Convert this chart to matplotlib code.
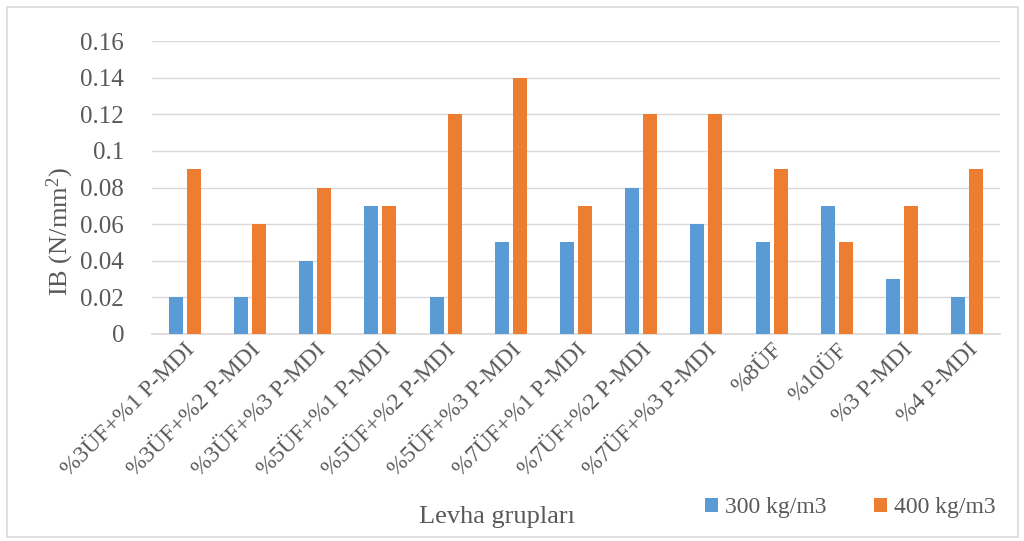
import matplotlib.pyplot as plt
import numpy as np
from matplotlib.patches import Rectangle

categories = ["%3ÜF+%1 P-MDI", "%3ÜF+%2 P-MDI", "%3ÜF+%3 P-MDI",
              "%5ÜF+%1 P-MDI", "%5ÜF+%2 P-MDI", "%5ÜF+%3 P-MDI",
              "%7ÜF+%1 P-MDI", "%7ÜF+%2 P-MDI", "%7ÜF+%3 P-MDI",
              "%8ÜF", "%10ÜF", "%3 P-MDI", "%4 P-MDI"]
ib_300 = [0.02, 0.02, 0.04, 0.07, 0.02, 0.05, 0.05, 0.08, 0.06, 0.05, 0.07, 0.03, 0.02]
ib_400 = [0.09, 0.06, 0.08, 0.07, 0.12, 0.14, 0.07, 0.12, 0.12, 0.09, 0.05, 0.07, 0.09]
y_ticks = [0, 0.02, 0.04, 0.06, 0.08, 0.1, 0.12, 0.14, 0.16]
y_tick_labels = ["0", "0.02", "0.04", "0.06", "0.08", "0.1", "0.12", "0.14", "0.16"]

plt.rcParams['font.family'] = ['Liberation Serif', 'DejaVu Serif']
plt.rcParams['mathtext.fontset'] = 'custom'
plt.rcParams['mathtext.rm'] = 'Liberation Serif'
text_color = "#595959"

fig = plt.figure(figsize=(10.24, 5.41), dpi=100)
ax = fig.add_axes([152 / 1024, 1 - 334 / 541, 848 / 1024, 293 / 541])

x = np.arange(len(categories))
w = 0.215
off = 0.138
ax.bar(x - off, ib_300, width=w, color="#5B9BD5", label="300 kg/m3", zorder=3)
ax.bar(x + off, ib_400, width=w, color="#ED7D31", label="400 kg/m3", zorder=3)

ax.set_xlim(-0.5, len(categories) - 0.5)
ax.set_ylim(0, 0.16)
ax.set_yticks(y_ticks)
ax.set_yticklabels(y_tick_labels, fontsize=18, color=text_color)
ax.yaxis.grid(True, color="#d9d9d9", linewidth=1, zorder=0)
ax.tick_params(axis='y', length=0, pad=20)
ax.tick_params(axis='x', length=0, pad=4)
ax.set_xticks(x)
ax.set_xticklabels(categories, rotation=45, ha='right', rotation_mode='anchor',
                   fontsize=17, color=text_color)
for s in ["top", "right", "left"]:
    ax.spines[s].set_visible(False)
ax.spines["bottom"].set_color("#d9d9d9")
ax.spines["bottom"].set_linewidth(1.2)

fig.text(60 / 1024, 1 - 232 / 541, "IB (N/mm$\\mathrm{^2}$)", fontsize=19, color=text_color,
         ha='center', va='center', rotation=90)
fig.text(497 / 1024, 1 - 517 / 541, "Levha grupları", fontsize=19, color=text_color,
         ha='center', va='center')

fig.legend(loc='center', bbox_to_anchor=(850 / 1024, 1 - 508 / 541), ncol=2,
           frameon=False, fontsize=17, handlelength=0.55, handleheight=0.55,
           handletextpad=0.3, columnspacing=2.0, labelcolor=text_color)

fig.patches.append(Rectangle((7 / 1024, 4 / 541), 1011 / 1024, 530 / 541,
                             transform=fig.transFigure, fill=False,
                             edgecolor="#d9d9d9", linewidth=1.2))

fig.savefig("out.png", dpi=100)
